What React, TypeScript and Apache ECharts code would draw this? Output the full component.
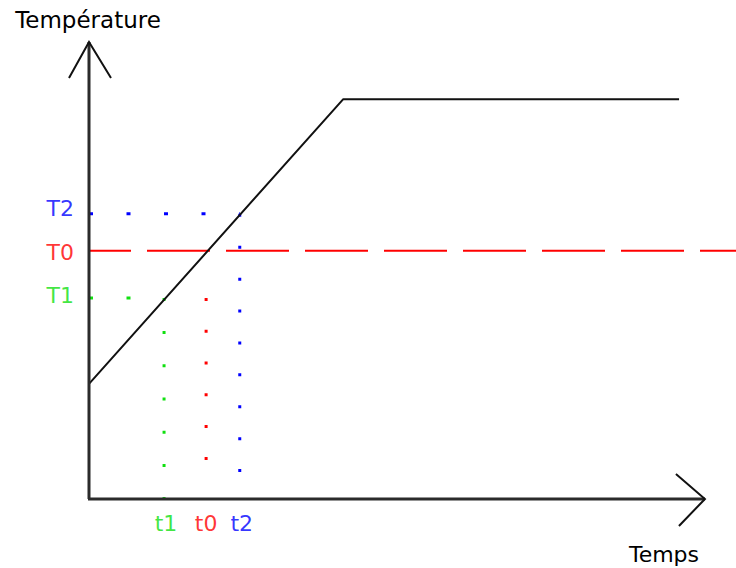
import React, { useEffect, useRef } from "react";
import * as echarts from "echarts";

// Abstract axis ranges (time, temperature)
const TIME_MAX = 100;
const TEMP_MAX = 100;
const TIME_AXIS_END = 95.2;
const TEMP_AXIS_END = 100;

// Temperature curve: linear rise then plateau
const CURVE_TIME = [0, 39.3, 91.2];
const CURVE_TEMP = [25.2, 87.5, 87.5];

// Reference temperatures and their reading times
const TEMP_NAMES = ["T2", "T0", "T1"];
const TEMP_VALUES = [62.4, 54.3, 44.0];
const TIME_NAMES = ["t1", "t0", "t2"];
const TIME_VALUES = [11.6, 18.1, 23.3];

const BLUE = "#0000ff";
const RED = "#ff0000";
const GREEN = "#10e010";
const FONT = '"DejaVu Sans", sans-serif';

export default function App() {
  const ref = useRef<HTMLDivElement>(null);

  useEffect(() => {
    if (!ref.current) return;
    const chart = echarts.init(ref.current, null, { renderer: "svg" });

    const T2 = TEMP_VALUES[0];
    const T0 = TEMP_VALUES[1];
    const T1 = TEMP_VALUES[2];
    const t1 = TIME_VALUES[0];
    const t0 = TIME_VALUES[1];
    const t2 = TIME_VALUES[2];

    const hDots = [4, 33.5];
    const dotted = (color: string, data: number[][], dash: number[]) => ({
      type: "line",
      data,
      showSymbol: false,
      silent: true,
      z: 3,
      lineStyle: { color, width: 3, type: dash, cap: "butt" },
    });

    const tempColors: Record<string, string> = { T2: BLUE, T0: RED, T1: GREEN };
    const tempOffsets: Record<string, number[]> = { T2: [0, -5], T0: [0, 2], T1: [0, -2] };
    const timeColors: Record<string, string> = { t1: GREEN, t0: RED, t2: BLUE };
    const timeOffsets: Record<string, number[]> = { t1: [2, 0], t0: [0, 0], t2: [2, 0] };

    chart.setOption({
      animation: false,
      grid: { left: 89, right: 0, top: 42, bottom: 69 },
      xAxis: { type: "value", min: 0, max: TIME_MAX, show: false },
      yAxis: { type: "value", min: 0, max: TEMP_MAX, show: false },
      graphic: [
        {
          type: "text",
          x: 88,
          y: 20,
          style: {
            text: "Température",
            font: `23px ${FONT}`,
            fill: "#000",
            align: "center",
            verticalAlign: "middle",
          },
        },
        {
          type: "text",
          x: 664,
          y: 554,
          style: {
            text: "Temps",
            font: `22px ${FONT}`,
            fill: "#000",
            align: "center",
            verticalAlign: "middle",
          },
        },
      ],
      series: [
        {
          type: "custom",
          silent: true,
          z: 5,
          data: [[0, 0]],
          renderItem: (_params: any, api: any) => {
            const o = api.coord([0, 0]);
            const yTip = api.coord([0, TEMP_AXIS_END]);
            const xTip = api.coord([TIME_AXIS_END, 0]);
            const axisStyle = { stroke: "#2b2b2b", lineWidth: 3 };
            const wingStyle = { stroke: "#111", lineWidth: 2 };
            return {
              type: "group",
              children: [
                { type: "line", shape: { x1: o[0], y1: o[1], x2: yTip[0], y2: yTip[1] }, style: axisStyle },
                { type: "line", shape: { x1: o[0] - 1, y1: o[1], x2: xTip[0], y2: xTip[1] }, style: axisStyle },
                { type: "polyline", shape: { points: [[yTip[0] - 20, yTip[1] + 36], [yTip[0], yTip[1]], [yTip[0] + 22, yTip[1] + 36]] }, style: { ...wingStyle, fill: "none" } },
                { type: "polyline", shape: { points: [[xTip[0] - 29, xTip[1] - 25], [xTip[0], xTip[1]], [xTip[0] - 26, xTip[1] + 27]] }, style: { ...wingStyle, fill: "none" } },
              ],
            };
          },
        },
        {
          type: "line",
          data: CURVE_TIME.map((t, i) => [t, CURVE_TEMP[i]]),
          showSymbol: false,
          silent: true,
          z: 4,
          lineStyle: { color: "#111", width: 2 },
        },
        {
          type: "line",
          data: [[0, T0], [TIME_MAX, T0]],
          showSymbol: false,
          silent: true,
          z: 2,
          lineStyle: { color: RED, width: 2, type: [63, 16], dashOffset: 21, cap: "butt" },
        },
        dotted(BLUE, [[0, T2], [t2, T2]], hDots),
        dotted(BLUE, [[t2, T2], [t2, 0]], [3, 28.9]),
        dotted(GREEN, [[0, T1], [t1, T1]], hDots),
        dotted(GREEN, [[t1, T1], [t1, 0]], [3, 30.2]),
        dotted(RED, [[t0, T1], [t0, 0]], [3, 28.8, 3, 28.8, 3, 28.8, 3, 28.8, 3, 28.8, 3, 200]),
        {
          type: "scatter",
          symbolSize: 0,
          silent: true,
          data: TEMP_NAMES.map((n, i) => ({
            name: n,
            value: [0, TEMP_VALUES[i]],
            label: {
              show: true,
              position: "left",
              distance: 15,
              formatter: n,
              color: tempColors[n],
              fontSize: 22,
              fontFamily: FONT,
              offset: tempOffsets[n],
            },
          })),
        },
        {
          type: "scatter",
          symbolSize: 0,
          silent: true,
          data: TIME_NAMES.map((n, i) => ({
            name: n,
            value: [TIME_VALUES[i], 0],
            label: {
              show: true,
              position: "bottom",
              distance: 13,
              formatter: n,
              color: timeColors[n],
              fontSize: 22,
              fontFamily: FONT,
              offset: timeOffsets[n],
            },
          })),
        },
      ],
    });

    return () => chart.dispose();
  }, []);

  return <div ref={ref} style={{ width: 736, height: 568, position: "absolute", left: 0, top: 0 }} />;
}
